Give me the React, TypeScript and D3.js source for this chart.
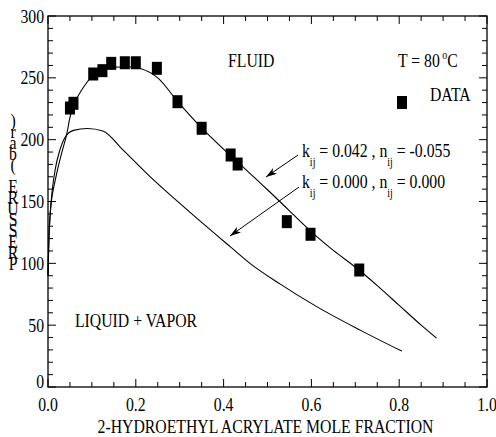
import React from "react";
import * as d3 from "d3";

const W = 496;
const H = 437;
const margin = { left: 48, top: 16, right: 9, bottom: 50 };

// measured points (HEA mole fraction, pressure bar)
const dataX = [0.05, 0.058, 0.103, 0.124, 0.144, 0.175, 0.2, 0.248, 0.295, 0.35, 0.416, 0.432, 0.544, 0.598, 0.709];
const dataP = [225.6, 229.4, 253.1, 255.8, 261.7, 262.2, 262.2, 257.7, 230.7, 209.2, 187.6, 180.3, 133.7, 123.5, 94.6];

// kij = 0.042, nij = -0.055
const fitX = [0, 0.002, 0.005, 0.008, 0.014, 0.02, 0.031, 0.043, 0.05, 0.06, 0.08, 0.1, 0.125, 0.15, 0.18, 0.21, 0.25, 0.295, 0.35, 0.416, 0.45, 0.5, 0.55, 0.6, 0.65, 0.7, 0.75, 0.8, 0.85, 0.885];
const fitP = [90, 120, 140, 151, 163, 173, 189, 205, 218, 229, 242, 251, 256, 258.5, 259, 257.5, 250, 231, 209.5, 187, 176, 159.5, 142.5, 125.5, 110.5, 97, 82, 66, 50, 39.5];

// kij = 0, nij = 0
const idealX = [0, 0.002, 0.005, 0.01, 0.017, 0.027, 0.039, 0.058, 0.09, 0.125, 0.17, 0.23, 0.31, 0.415, 0.46, 0.53, 0.612, 0.711, 0.806];
const idealP = [90, 118, 140, 160, 177, 191.5, 202, 207.5, 209, 207, 192, 171, 145.5, 113.5, 100, 83, 65, 46, 29];

const xMajor = [0, 0.2, 0.4, 0.6, 0.8, 1.0];
const xLabels = ["0.0", "0.2", "0.4", "0.6", "0.8", "1.0"];
const yMajor = [0, 50, 100, 150, 200, 250, 300];
const yLabels = ["0", "50", "100", "150", "200", "250", "300"];

const FONT = "Liberation Serif";
const SX = 0.83; // the original type is horizontally squeezed

function Txt({ x, y, anchor = "start", size = 19, children }: any) {
  return (
    <g transform={`translate(${x},${y}) scale(${SX},1)`}>
      <text fontFamily={FONT} fontSize={size} textAnchor={anchor} fill="#000">
        {children}
      </text>
    </g>
  );
}

function Arrow({ x1, y1, x2, y2 }: any) {
  const a = Math.atan2(y2 - y1, x2 - x1);
  const len = 11, half = 3.5;
  const bx = x2 - len * Math.cos(a), by = y2 - len * Math.sin(a);
  const nx = -Math.sin(a), ny = Math.cos(a);
  const head = `M${x2},${y2}L${bx + nx * half},${by + ny * half}L${x2 - 8 * Math.cos(a)},${y2 - 8 * Math.sin(a)}L${bx - nx * half},${by - ny * half}Z`;
  return (
    <g>
      <line x1={x1} y1={y1} x2={x2} y2={y2} stroke="#000" strokeWidth={1} />
      <path d={head} fill="#000" />
    </g>
  );
}

export default function App() {
  const x = d3.scaleLinear().domain([0, 1]).range([margin.left, W - margin.right]);
  const y = d3.scaleLinear().domain([0, 300]).range([H - margin.bottom, margin.top]);
  const [x0, x1] = x.range();
  const [y0, y1] = y.range();

  const line = d3
    .line<[number, number]>()
    .x((d) => x(d[0]))
    .y((d) => y(d[1]))
    .curve(d3.curveMonotoneX);

  const fit = fitX.map((v, i) => [v, fitP[i]] as [number, number]);
  const ideal = idealX.map((v, i) => [v, idealP[i]] as [number, number]);

  const xMinor = d3.range(0, 1.0001, 0.05).filter((v) => !xMajor.some((m) => Math.abs(m - v) < 1e-6));
  const yMinor = d3.range(0, 301, 10).filter((v) => v % 50 !== 0);
  const MAJ = 8, MIN = 5;

  const ylab = "PRESSURE (bar)".split("");

  return (
    <svg width={W} height={H} style={{ position: "absolute", left: 0, top: 0, background: "#fff" }}>
      <rect x={0} y={0} width={W} height={H} fill="#fff" />

      {/* ticks, inward on all four sides */}
      <g stroke="#000" strokeWidth={1}>
        {xMajor.map((v) => (
          <g key={"xm" + v}>
            <line x1={x(v)} x2={x(v)} y1={y0} y2={y0 - MAJ} />
            <line x1={x(v)} x2={x(v)} y1={y1} y2={y1 + MAJ} />
          </g>
        ))}
        {xMinor.map((v) => (
          <g key={"xn" + v}>
            <line x1={x(v)} x2={x(v)} y1={y0} y2={y0 - MIN} />
            <line x1={x(v)} x2={x(v)} y1={y1} y2={y1 + MIN} />
          </g>
        ))}
        {yMajor.map((v) => (
          <g key={"ym" + v}>
            <line x1={x0} x2={x0 + MAJ} y1={y(v)} y2={y(v)} />
            <line x1={x1} x2={x1 - MAJ} y1={y(v)} y2={y(v)} />
          </g>
        ))}
        {yMinor.map((v) => (
          <g key={"yn" + v}>
            <line x1={x0} x2={x0 + MIN} y1={y(v)} y2={y(v)} />
            <line x1={x1} x2={x1 - MIN} y1={y(v)} y2={y(v)} />
          </g>
        ))}
      </g>
      <rect x={x0} y={y1} width={x1 - x0} height={y0 - y1} fill="none" stroke="#000" strokeWidth={1.3} />

      {/* tick labels */}
      {xMajor.map((v, i) => (
        <Txt key={"xl" + v} x={x(v)} y={y0 + 24} anchor="middle">
          {xLabels[i]}
        </Txt>
      ))}
      {yMajor.map((v, i) => (
        <Txt key={"yl" + v} x={x0 - 4} y={v === 0 ? y(v) + 1 : y(v) + 6.5} anchor="end">
          {yLabels[i]}
        </Txt>
      ))}

      {/* axis titles */}
      <Txt x={(x0 + x1) / 2 - 2} y={433} anchor="middle">
        2-HYDROETHYL ACRYLATE MOLE FRACTION
      </Txt>
      {ylab.map((c, i) =>
        c === " " ? null : (
          <Txt key={"yt" + i} x={13} y={270 - i * 11} anchor="middle">
            {c}
          </Txt>
        )
      )}

      {/* model curves */}
      <path d={line(fit) || ""} fill="none" stroke="#000" strokeWidth={1.1} />
      <path d={line(ideal) || ""} fill="none" stroke="#000" strokeWidth={1.1} />

      {/* data */}
      {dataX.map((v, i) => (
        <rect key={"d" + i} x={x(v) - 5} y={y(dataP[i]) - 6.5} width={10} height={13} fill="#000" />
      ))}

      {/* annotations */}
      <Txt x={228} y={67}>FLUID</Txt>
      <Txt x={398} y={67}>
        T = 80
        <tspan fontSize={12} dx={3} dy={-8}>o</tspan>
        <tspan dy={8}>C</tspan>
      </Txt>
      <rect x={397} y={96} width={10} height={13} fill="#000" />
      <Txt x={430} y={101}>DATA</Txt>
      <Txt x={75} y={327}>LIQUID + VAPOR</Txt>

      <Txt x={302} y={157}>
        k<tspan fontSize={12} dy={9}>ij</tspan>
        <tspan dy={-9}> = 0.042 , n</tspan>
        <tspan fontSize={12} dy={9}>ij</tspan>
        <tspan dy={-9}> = -0.055</tspan>
      </Txt>
      <Txt x={302} y={188}>
        k<tspan fontSize={12} dy={9}>ij</tspan>
        <tspan dy={-9}> = 0.000 , n</tspan>
        <tspan fontSize={12} dy={9}>ij</tspan>
        <tspan dy={-9}> =  0.000</tspan>
      </Txt>

      <Arrow x1={x(0.5695)} y1={y(187.6)} x2={x(0.4966)} y2={y(169.8)} />
      <Arrow x1={x(0.5718)} y1={y(161.7)} x2={x(0.4146)} y2={y(122.1)} />
    </svg>
  );
}
